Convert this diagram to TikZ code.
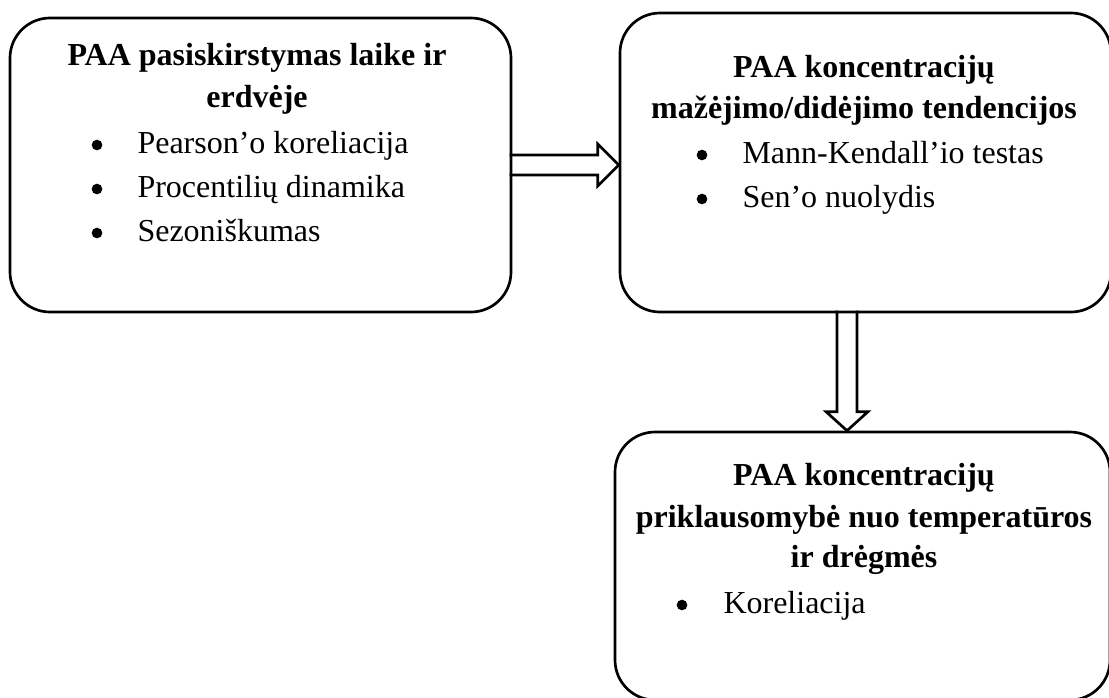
\documentclass[tikz,border=0pt]{standalone}
\usepackage{fontspec}
\setmainfont{Liberation Serif}
\usetikzlibrary{positioning,calc}

\tikzset{every picture/.style={line width=0.75pt}}
\tikzset{
  roundbox/.style={draw, line width=2pt, rounded corners=30pt, inner sep=0pt},
  blockarr/.style={draw, line width=2pt, line join=miter},
  headtxt/.style={anchor=base, inner sep=0.75pt, font=\fontsize{24}{29}\selectfont\bfseries},
  itemtxt/.style={anchor=base west, inner sep=0pt, font=\fontsize{24}{29}\selectfont},
  dot/.style={circle, fill, inner sep=0pt, minimum size=8pt}
}

\begin{document}
\begin{tikzpicture}[x=0.75pt,y=0.75pt,yscale=-1,xscale=1]
\useasboundingbox (0,0) rectangle (1109,697);

%Shape: Rounded Rect [id:erdv]
\node[roundbox, minimum width=375.75pt, minimum height=220.5pt] (erdv) at (260.5,165) {};
%Shape: Rounded Rect [id:tend]
\node[roundbox, minimum width=368.25pt, minimum height=224.25pt] (tend) at (865.5,162.5) {};
%Shape: Rounded Rect [id:prikl]
\node[roundbox, minimum width=371.25pt, minimum height=201pt] (prikl) at (862.5,566) {};

%Right Arrow
\coordinate (htip) at (erdv.east -| tend.west);
\draw[blockarr] (htip) ++(-109,-10) -- ++(88,0) -- ++(0,-11) -- (htip) -- ++(-21,21) -- ++(0,-11) -- ++(-88,0);
%Down Arrow
\coordinate (vtip) at ($(prikl.north)+(-15.5,0)$);
\draw[blockarr] (vtip) ++(-10,-120) -- ++(0,101) -- ++(-11,0) -- (vtip) -- ++(21,-19) -- ++(-11,0) -- ++(0,-101);

% Text Node
\node[headtxt] (erdvh1) at (257,65) {PAA pasiskirstymas laike ir};
\node[headtxt] (erdvh2) at (257,107) {erdvėje};
\node[dot] (erdvd1) at (97,145) {};
\node[itemtxt] (erdvi1) at (137,153) {Pearson’o koreliacija};
\node[dot] (erdvd2) at (97,189) {};
\node[itemtxt] (erdvi2) at (137,197) {Procentilių dinamika};
\node[dot] (erdvd3) at (97,233) {};
\node[itemtxt] (erdvi3) at (137,241) {Sezoniškumas};

% Text Node
\node[headtxt] (tendh1) at (864,77) {PAA koncentracijų};
\node[headtxt] (tendh2) at (864,118) {mažėjimo/didėjimo tendencijos};
\node[dot] (tendd1) at (702,155) {};
\node[itemtxt] (tendi1) at (742,163) {Mann-Kendall’io testas};
\node[dot] (tendd2) at (702,199) {};
\node[itemtxt] (tendi2) at (742,207) {Sen’o nuolydis};

% Text Node
\node[headtxt] (priklh1) at (864,485) {PAA koncentracijų};
\node[headtxt] (priklh2) at (864,527) {priklausomybė nuo temperatūros};
\node[headtxt] (priklh3) at (864,567) {ir drėgmės};
\node[dot] (prikld1) at (682,605) {};
\node[itemtxt] (prikli1) at (723,613) {Koreliacija};

\end{tikzpicture}
\end{document}
